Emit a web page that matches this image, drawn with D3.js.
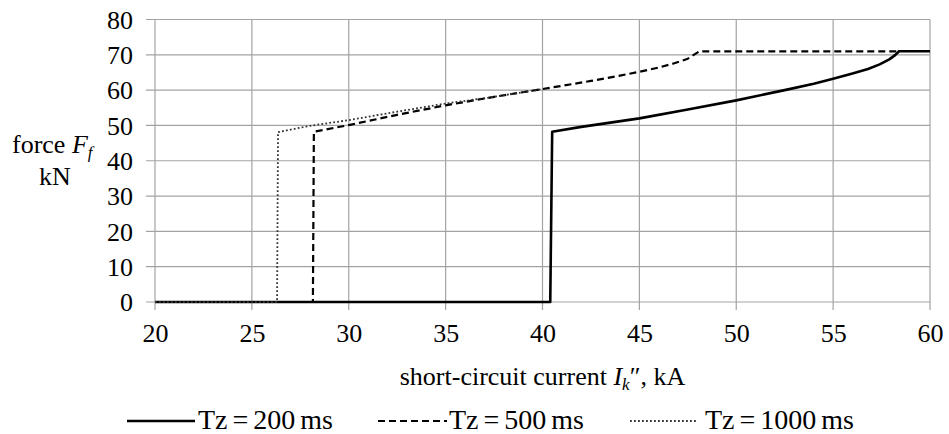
<!DOCTYPE html>
<html>
<head>
<meta charset="utf-8">
<script src="https://cdn.jsdelivr.net/npm/d3@7"></script>
<style>
  body { margin: 0; background: #fff; }
  svg text { font-family: "Liberation Serif", "DejaVu Serif", serif !important; fill: #000; }
</style>
</head>
<body>
<svg id="chart" width="949" height="434"></svg>
<script>
// tick values
var xTicks = [20, 25, 30, 35, 40, 45, 50, 55, 60];
var yTicks = [0, 10, 20, 30, 40, 50, 60, 70, 80];

// Tz = 200 ms
var current200 = [20, 40.4, 40.5, 42, 43.5, 45, 47.5, 50, 52.5, 54, 55, 56, 56.8, 57.4, 57.9, 58.2, 58.4, 60];
var force200   = [0, 0, 48.2, 49.6, 50.8, 52.0, 54.5, 57.1, 60.0, 61.8, 63.2, 64.7, 66.0, 67.3, 68.7, 69.9, 71, 71];

// Tz = 500 ms
var current500 = [20, 28.15, 28.2, 30, 32.5, 35, 37.5, 40, 42.5, 44, 45, 46, 46.8, 47.5, 48.1, 58.35];
var force500   = [0, 0, 48.2, 50.1, 53.0, 55.7, 58.1, 60.3, 62.6, 64.1, 65.2, 66.4, 67.6, 68.9, 71, 71];

// Tz = 1000 ms
var current1000 = [20, 26.3, 26.35, 28, 30, 32.5, 35, 37.5, 40];
var force1000   = [0, 0, 48.1, 49.9, 51.5, 53.9, 56.2, 58.1, 60.3];

var labels = ["Tz = 200 ms", "Tz = 500 ms", "Tz = 1000 ms"];

(function () {
var svg = d3.select("#chart");
var plotLeft = 155, plotRight = 930, plotTop = 19.5, plotBottom = 302;

var x = d3.scaleLinear().domain([20, 60]).range([plotLeft, plotRight]);
var y = d3.scaleLinear().domain([0, 80]).range([plotBottom, plotTop]);

var gridColor = "#a3a3a3";

// vertical grid + outward tick marks
svg.append("g").selectAll("line").data(xTicks).enter().append("line")
    .attr("x1", function (d) { return x(d); })
    .attr("x2", function (d) { return x(d); })
    .attr("y1", y(80)).attr("y2", plotBottom + 8)
    .attr("stroke", gridColor).attr("stroke-width", 1.2);

// horizontal grid + outward tick marks
svg.append("g").selectAll("line").data(yTicks).enter().append("line")
    .attr("x1", plotLeft - 9).attr("x2", plotRight)
    .attr("y1", function (d) { return y(d); })
    .attr("y2", function (d) { return y(d); })
    .attr("stroke", gridColor).attr("stroke-width", 1.2);

// axis labels
var yAxis = d3.axisLeft(y).tickValues(yTicks).tickSize(0).tickPadding(22);
var gy = svg.append("g").attr("transform", "translate(" + plotLeft + ",0)").call(yAxis);
gy.select(".domain").remove();
gy.attr("font-family", null).attr("font-size", null);
gy.selectAll("text").style("font-size", "26px").attr("dy", "0.34em");

var xAxis = d3.axisBottom(x).tickValues(xTicks).tickSize(0).tickPadding(22);
var gx = svg.append("g").attr("transform", "translate(0," + plotBottom + ")").call(xAxis);
gx.select(".domain").remove();
gx.attr("font-family", null).attr("font-size", null);
gx.selectAll("text").style("font-size", "26px");

// series
function pts(xs, ys) {
    return xs.map(function (v, i) { return [v, ys[i]]; });
}
var line = d3.line()
    .x(function (d) { return x(d[0]); })
    .y(function (d) { return y(d[1]); });

var series = [
    {data: pts(current200, force200), color: "#000", width: 2.6, dash: null},
    {data: pts(current500, force500), color: "#000", width: 2.2, dash: "7,4"},
    {data: pts(current1000, force1000), color: "#333", width: 1.8, dash: "1.8,2.2"}
];

series.forEach(function (s) {
    svg.append("path")
        .attr("d", line(s.data))
        .attr("fill", "none")
        .attr("stroke", s.color)
        .attr("stroke-width", s.width)
        .attr("stroke-dasharray", s.dash)
        .attr("stroke-linejoin", "round");
});

// y title
var yt = svg.append("text").attr("x", 12).attr("y", 153).style("font-size", "26px");
yt.append("tspan").text("force ");
yt.append("tspan").style("font-style", "italic").text("F");
yt.append("tspan").style("font-style", "italic").style("font-size", "17px").attr("dy", 5).text("f");
svg.append("text").attr("x", 55).attr("y", 185).attr("text-anchor", "middle")
    .style("font-size", "26px").text("kN");

// x title
var xt = svg.append("text").attr("x", (plotLeft + plotRight) / 2).attr("y", 385)
    .attr("text-anchor", "middle").style("font-size", "26px");
xt.append("tspan").text("short-circuit current ");
xt.append("tspan").style("font-style", "italic").text("I");
xt.append("tspan").style("font-style", "italic").style("font-size", "17px").attr("dy", 5).text("k");
xt.append("tspan").attr("dy", -5).text("\u2033, kA");

// legend
var legendPos = [[127, 195, 198], [378, 447, 449], [630, 696, 705]];
legendPos.forEach(function (p, i) {
    var s = series[i];
    svg.append("line")
        .attr("x1", p[0]).attr("x2", p[1]).attr("y1", 421).attr("y2", 421)
        .attr("stroke", s.color).attr("stroke-width", s.width)
        .attr("stroke-dasharray", s.dash);
    svg.append("text").attr("x", p[2]).attr("y", 429)
        .style("font-size", "28px").style("word-spacing", "-2px")
        .text(labels[i]);
});
})();
</script>
</body>
</html>
